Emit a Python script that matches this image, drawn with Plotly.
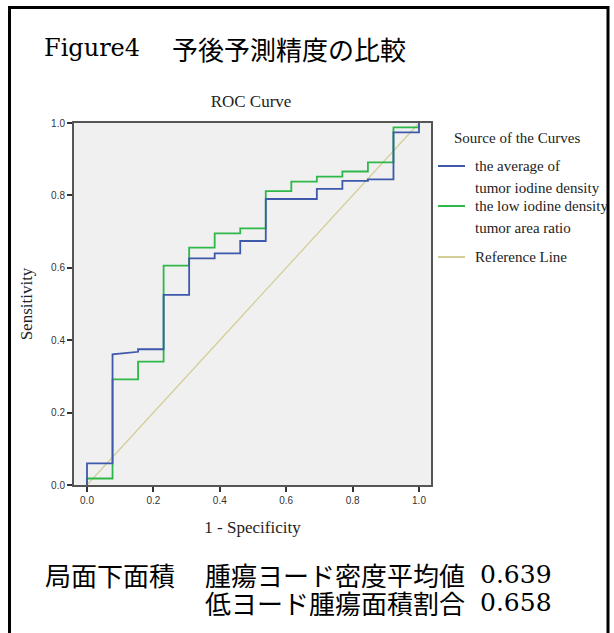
import plotly.graph_objects as go

# ---- data ----
fpr_avg = [0, 0, 1/13, 1/13, 2/13, 2/13, 3/13, 3/13, 4/13, 4/13, 5/13, 5/13, 6/13, 6/13,
           7/13, 7/13, 9/13, 9/13, 10/13, 10/13, 11/13, 11/13, 12/13, 12/13, 1, 1]
tpr_avg = [0, 0.06, 0.06, 0.361, 0.368, 0.375, 0.375, 0.525, 0.525, 0.626, 0.626, 0.640, 0.640, 0.674,
           0.674, 0.790, 0.790, 0.818, 0.818, 0.840, 0.840, 0.844, 0.844, 0.974, 0.974, 1.0]
fpr_low = [0, 0, 1/13, 1/13, 2/13, 2/13, 3/13, 3/13, 4/13, 4/13, 5/13, 5/13, 6/13, 6/13,
           7/13, 7/13, 8/13, 8/13, 9/13, 9/13, 10/13, 10/13, 11/13, 11/13, 12/13, 12/13, 1, 1]
tpr_low = [0, 0.018, 0.018, 0.292, 0.292, 0.341, 0.341, 0.606, 0.606, 0.656, 0.656, 0.695, 0.695, 0.709,
           0.709, 0.812, 0.812, 0.838, 0.838, 0.852, 0.852, 0.866, 0.866, 0.891, 0.891, 0.988, 0.988, 1.0]
ref_x = [0, 1]
ref_y = [0, 1]
tick_vals = [0, 0.2, 0.4, 0.6, 0.8, 1.0]
tick_text = ["0.0", "0.2", "0.4", "0.6", "0.8", "1.0"]
series_names = ["the average of<br>tumor iodine density",
                "the low iodine density<br>tumor area ratio",
                "Reference Line"]
series_colors = ["#3e58ac", "#2eb848", "#d3ce97"]
legend_title = "Source of the Curves"
fig_title = "Figure4"
fig_title_jp = "予後予測精度の比較"
auc_label = "局面下面積"
auc_names = ["腫瘍ヨード密度平均値", "低ヨード腫瘍面積割合"]
auc_values = ["0.639", "0.658"]

# ---- layout geometry (screen pixels) ----
W, H = 614, 633
PL, PR, PT, PB = 74, 431, 123, 485          # plot area
L, T = PL, PT
R, B = W - PR, H - PB
PW, PH = PR - PL, PB - PT

def px(x):
    return (x - PL) / PW

def py(y):
    return (PB - y) / PH

SERIF = "Liberation Serif"
JP = "Noto Sans CJK JP"

fig = go.Figure()
fig.add_trace(go.Scatter(x=ref_x, y=ref_y, mode="lines", name=series_names[2],
                         line=dict(color=series_colors[2], width=1.3), showlegend=False))
fig.add_trace(go.Scatter(x=fpr_low, y=tpr_low, mode="lines", name=series_names[1],
                         line=dict(color=series_colors[1], width=1.8), showlegend=False))
fig.add_trace(go.Scatter(x=fpr_avg, y=tpr_avg, mode="lines", name=series_names[0],
                         line=dict(color=series_colors[0], width=1.8), showlegend=False))

ann = []
# titles
ann.append(dict(text=fig_title, x=px(42), y=py(48), xanchor="left", yanchor="middle",
                font=dict(family="DejaVu Serif", size=24, color="black")))
ann.append(dict(text=fig_title_jp, x=px(170), y=py(48), xanchor="left", yanchor="middle",
                font=dict(family=JP, size=26, color="black")))
# legend
ann.append(dict(text=legend_title, x=px(452), y=py(138), xanchor="left", yanchor="middle",
                font=dict(family=SERIF, size=15, color="#222")))
leg_y = [166, 206, 257]
for i, nm in enumerate(series_names):
    lines = nm.split("<br>")
    for j, ln in enumerate(lines):
        ann.append(dict(text=ln, x=px(473), y=py(leg_y[i] + j * 22), xanchor="left", yanchor="middle",
                        font=dict(family=SERIF, size=15, color="#222")))
# AUC text
ann.append(dict(text=auc_label, x=px(43), y=py(574), xanchor="left", yanchor="middle",
                font=dict(family=JP, size=26, color="black")))
for i in range(2):
    yy = 574 + i * 28
    ann.append(dict(text=auc_names[i], x=px(203), y=py(yy), xanchor="left", yanchor="middle",
                    height=28, font=dict(family=JP, size=26, color="black")))
    ann.append(dict(text=auc_values[i], x=px(478), y=py(yy), xanchor="left", yanchor="middle",
                    height=28, font=dict(family="DejaVu Serif", size=25, color="black")))
for a in ann:
    a.update(xref="paper", yref="paper", showarrow=False)

shapes = []
for i in range(3):
    shapes.append(dict(type="line", xref="paper", yref="paper",
                       x0=px(438), x1=px(465), y0=py(leg_y[i]), y1=py(leg_y[i]),
                       line=dict(color=series_colors[i], width=2)))
# outer frame
shapes.append(dict(type="rect", xref="paper", yref="paper",
                   x0=px(9.5), x1=px(608), y0=py(7.5), y1=py(660),
                   line=dict(color="black", width=3), fillcolor="rgba(0,0,0,0)", layer="above"))

fig.update_layout(
    width=W, height=H,
    margin=dict(l=L, r=R, t=T, b=B),
    paper_bgcolor="white",
    plot_bgcolor="#f0f0f0",
    title=dict(text="ROC Curve", x=px(251), xref="paper", xanchor="center",
               y=1 - 101 / H, yref="container", yanchor="middle",
               font=dict(family=SERIF, size=17, color="#222")),
    annotations=ann,
    shapes=shapes,
    showlegend=False,
    xaxis=dict(range=[(74 - 87) / 332, (431 - 87) / 332], tickvals=tick_vals, ticktext=tick_text,
               ticks="outside", ticklen=5, tickwidth=1.5, tickcolor="#333",
               tickfont=dict(family="Liberation Sans", size=10, color="#333"),
               showline=True, linecolor="#555", linewidth=2, mirror=True,
               showgrid=False, zeroline=False,
               title=dict(text="1 - Specificity", standoff=16,
                          font=dict(family=SERIF, size=17, color="#222"))),
    yaxis=dict(range=[0, 1], tickvals=tick_vals, ticktext=tick_text,
               ticks="outside", ticklen=5, tickwidth=1.5, tickcolor="#333",
               tickfont=dict(family="Liberation Sans", size=10, color="#333"),
               showline=True, linecolor="#555", linewidth=2, mirror=True,
               showgrid=False, zeroline=False,
               title=dict(text="Sensitivity", standoff=14,
                          font=dict(family=SERIF, size=17, color="#222"))),
)

fig.write_html("out.html", config={"displayModeBar": False},
               post_script="document.body.style.margin='0';document.body.style.overflow='hidden';")
